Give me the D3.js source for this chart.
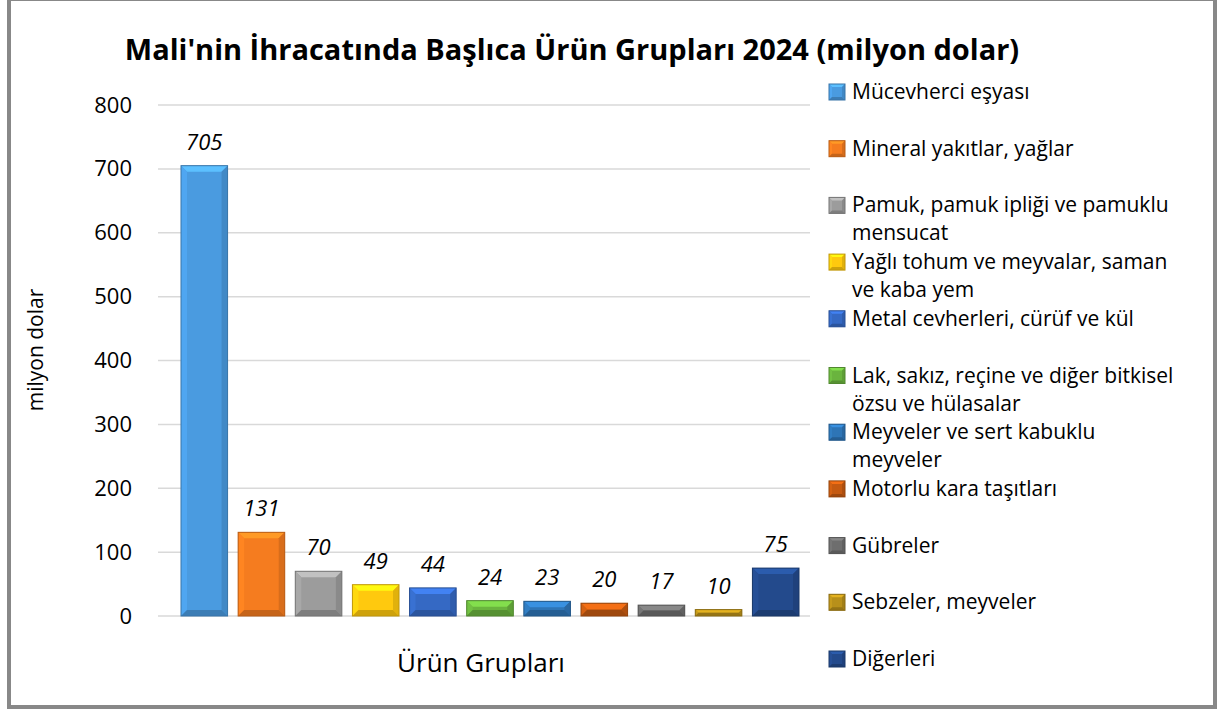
<!doctype html>
<html>
<head>
<meta charset="utf-8">
<style>
    body { margin: 0; background: #fff; }
    text { font-family: "Open Sans", "DejaVu Sans", sans-serif; fill: #000; }
</style>
<script src="https://d3js.org/d3.v7.min.js"></script>
</head>
<body>
<svg width="1219" height="710"></svg>
<script>
    // data
    var groups = ["Mücevherci eşyası", "Mineral yakıtlar, yağlar", "Pamuk, pamuk ipliği ve pamuklu mensucat",
        "Yağlı tohum ve meyvalar, saman ve kaba yem", "Metal cevherleri, cürüf ve kül",
        "Lak, sakız, reçine ve diğer bitkisel özsu ve hülasalar", "Meyveler ve sert kabuklu meyveler",
        "Motorlu kara taşıtları", "Gübreler", "Sebzeler, meyveler", "Diğerleri"];
    var legendLines = [["Mücevherci eşyası"], ["Mineral yakıtlar, yağlar"], ["Pamuk, pamuk ipliği ve pamuklu", "mensucat"],
        ["Yağlı tohum ve meyvalar, saman", "ve kaba yem"], ["Metal cevherleri, cürüf ve kül"],
        ["Lak, sakız, reçine ve diğer bitkisel", "özsu ve hülasalar"], ["Meyveler ve sert kabuklu", "meyveler"],
        ["Motorlu kara taşıtları"], ["Gübreler"], ["Sebzeler, meyveler"], ["Diğerleri"]];
    var values = [705, 131, 70, 49, 44, 24, 23, 20, 17, 10, 75];
    var colors = ["#4a9be0", "#f57c1f", "#9c9c9c", "#ffc90e", "#3569c4", "#6ab43e",
        "#2e75b6", "#c55a11", "#6e6e6e", "#b8901a", "#234a8c"];
    var yTicks = [0, 100, 200, 300, 400, 500, 600, 700, 800];

    var svg = d3.select("svg");

    // outer frame
    svg.append("rect")
        .attr("x", 9).attr("y", -1)
        .attr("width", 1206).attr("height", 708)
        .attr("fill", "#fff")
        .attr("stroke", "#888").attr("stroke-width", 4);

    svg.append("text")
        .attr("x", 572).attr("y", 60)
        .attr("text-anchor", "middle")
        .attr("font-size", "29px")
        .attr("font-weight", "bold")
        .text("Mali'nin İhracatında Başlıca Ürün Grupları 2024 (milyon dolar)");

    var x = d3.scaleBand().domain(groups).range([181, 799]).paddingInner(0.185).paddingOuter(0);
    var y = d3.scaleLinear().domain([0, 800]).range([616, 105]);

    // gridlines
    svg.append("g").selectAll("line")
        .data(yTicks).enter().append("line")
        .attr("x1", 158).attr("x2", 810)
        .attr("y1", function(d) { return y(d); })
        .attr("y2", function(d) { return y(d); })
        .attr("stroke", "#d9d9d9").attr("stroke-width", 1.5);

    // y axis labels
    var yAxis = svg.append("g")
        .attr("transform", "translate(140,0)")
        .call(d3.axisLeft(y).tickValues(yTicks).tickSize(0).tickPadding(8));
    yAxis.select(".domain").remove();
    yAxis.selectAll("text")
        .attr("font-size", "22px")
        .attr("font-family", "'Open Sans', sans-serif")
        .attr("fill", "#000");

    svg.append("text")
        .attr("transform", "translate(43,350) rotate(-90)")
        .attr("text-anchor", "middle")
        .attr("font-size", "21px")
        .text("milyon dolar");

    svg.append("text")
        .attr("x", 481).attr("y", 672)
        .attr("text-anchor", "middle")
        .attr("font-size", "26px")
        .text("Ürün Grupları");

    // beveled bar drawing
    function bevel(g, x0, y0, w, h, col, b) {
        var c = d3.color(col);
        b = Math.min(b, h / 2, w / 2);
        g.append("rect").attr("x", x0).attr("y", y0).attr("width", w).attr("height", h)
            .attr("fill", col);
        var x1 = x0 + w, y1 = y0 + h;
        var faces = [
            [[x0, y0], [x1, y0], [x1 - b, y0 + b], [x0 + b, y0 + b], c.brighter(0.6)],
            [[x0, y0], [x0 + b, y0 + b], [x0 + b, y1 - b], [x0, y1], c.brighter(0.2)],
            [[x1, y0], [x1, y1], [x1 - b, y1 - b], [x1 - b, y0 + b], c.darker(0.35)],
            [[x0, y1], [x0 + b, y1 - b], [x1 - b, y1 - b], [x1, y1], c.darker(0.6)]
        ];
        faces.forEach(function(f) {
            g.append("path")
                .attr("d", "M" + f.slice(0, 4).map(function(p) { return p.join(","); }).join("L") + "Z")
                .attr("fill", f[4].formatHex());
        });
        g.append("rect").attr("x", x0).attr("y", y0).attr("width", w).attr("height", h)
            .attr("fill", "none").attr("stroke", c.darker(0.8).formatHex()).attr("stroke-width", 1);
    }

    var bars = svg.append("g");
    groups.forEach(function(name, i) {
        bevel(bars, x(name), y(values[i]), x.bandwidth(), y(0) - y(values[i]), colors[i], 6);
    });

    svg.append("g").selectAll("text")
        .data(values).enter().append("text")
        .attr("x", function(d, i) { return x(groups[i]) + x.bandwidth() / 2; })
        .attr("y", function(d) { return y(d) - 16; })
        .attr("text-anchor", "middle")
        .attr("font-size", "22px")
        .attr("font-style", "italic")
        .text(function(d) { return d; });

    // legend
    var legend = svg.append("g");
    legendLines.forEach(function(lines, i) {
        var cy = 92 + i * 56.7;
        bevel(legend, 829, cy - 8, 16, 16, colors[i], 3);
        lines.forEach(function(t, j) {
            legend.append("text")
                .attr("x", 852).attr("y", cy + 7 + j * 28)
                .attr("font-size", "21px")
                .text(t);
        });
    });
</script>
</body>
</html>
